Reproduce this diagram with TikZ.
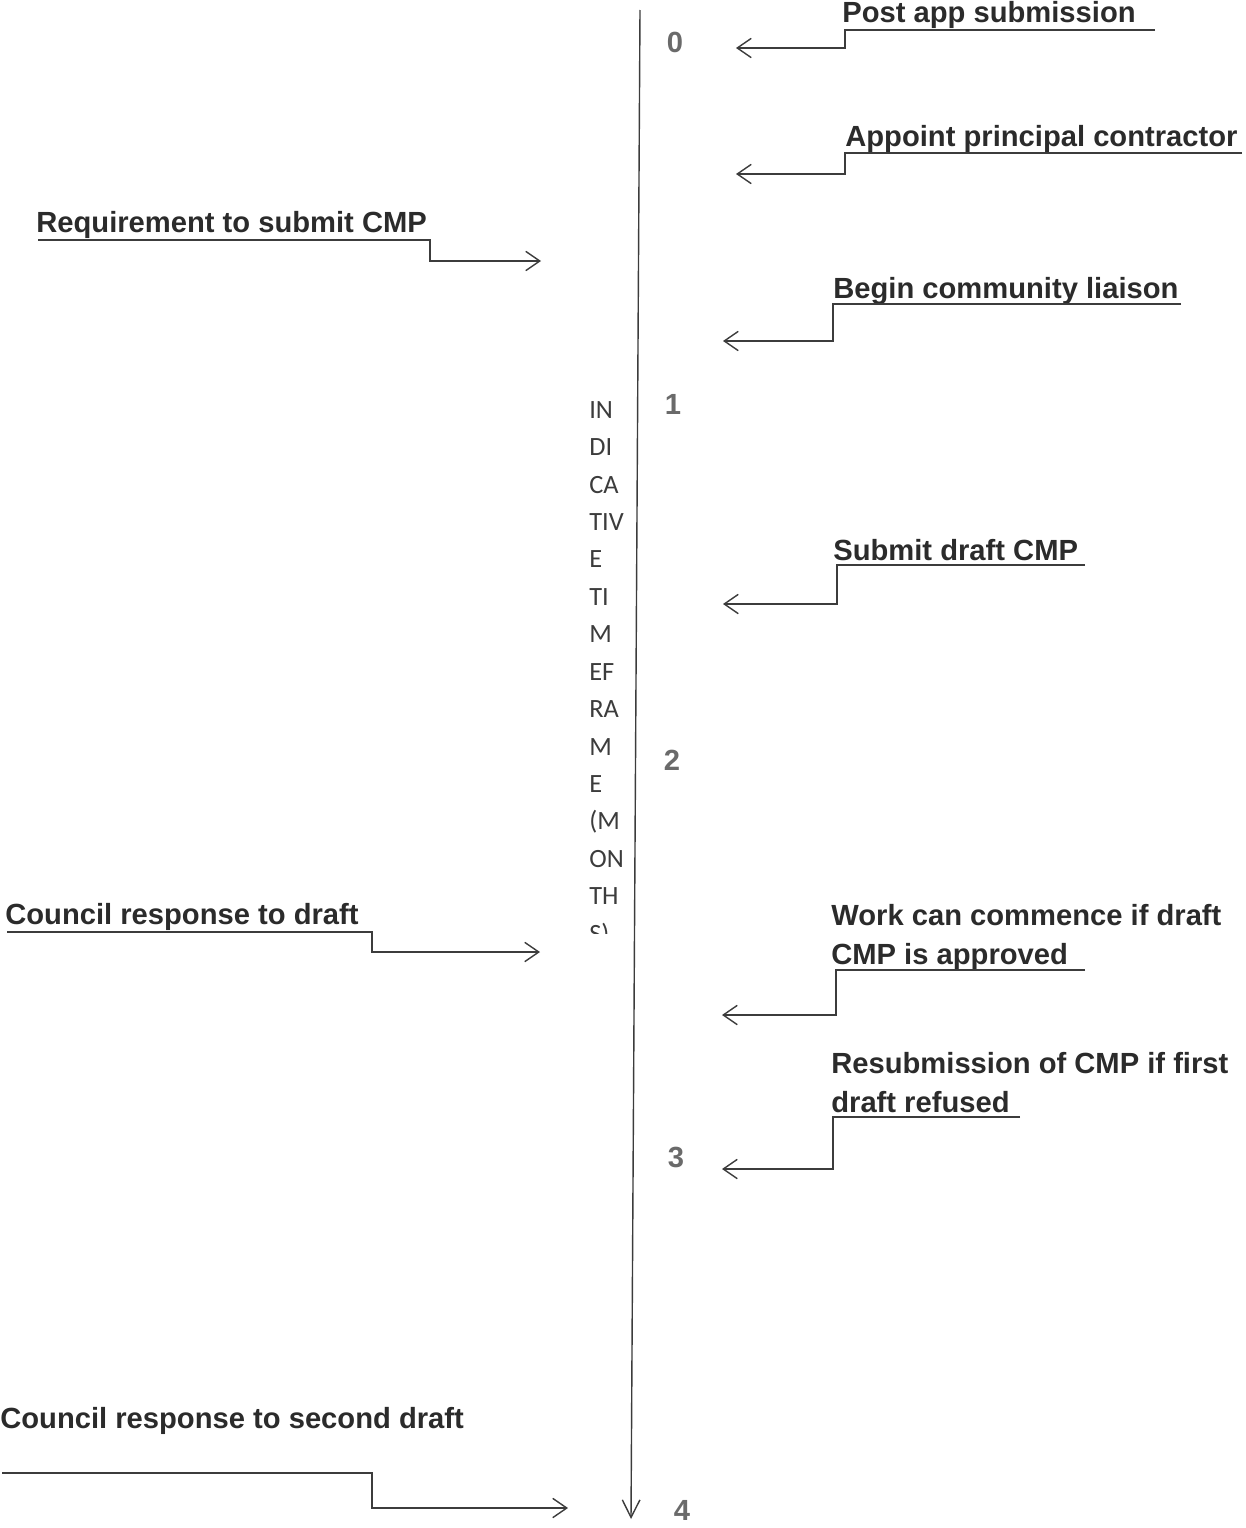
\documentclass[tikz,border=0pt]{standalone}
\usepackage{fontspec}
\setmainfont{Liberation Sans}
\newfontfamily\calib{Carlito}
\usetikzlibrary{arrows.meta}
\definecolor{ink}{HTML}{2B2B2B}
\definecolor{numgray}{HTML}{6A6A6A}
\definecolor{linegray}{HTML}{3C3C3C}
\definecolor{coltext}{HTML}{3C3C3C}
\begin{document}
\begin{tikzpicture}[x=0.02cm,y=-0.02cm,
    lbl/.style={inner sep=0pt,text=ink,font=\fontsize{16.6}{22.2}\selectfont\bfseries},
    num/.style={inner sep=0pt,text=numgray,font=\fontsize{16.6}{20}\selectfont\bfseries},
    conn/.style={draw=linegray,line width=0.8pt,-{Straight Barb[length=8pt,width=11pt]}},
    uline/.style={draw=linegray,line width=0.8pt}]
    \useasboundingbox (0,0) rectangle (1245,1528);
    % time line
    \coordinate (top) at (640,10);
    \coordinate (bottom) at (631,1519);
    \draw[draw=linegray,line width=0.8pt,-{Straight Barb[length=10pt,width=10pt]}] (top) -- (bottom);
    \node[num] (m0) at (675,42) {0};
    \node[num] (m1) at (673,404) {1};
    \node[num] (m2) at (672,760) {2};
    \node[num] (m3) at (676,1157) {3};
    \node[num] (m4) at (682,1510) {4};
    \begin{scope}
        \clip (560,380) rectangle (630,933);
        \node[inner sep=0pt,anchor=north west,align=left,text=coltext,font=\calib\fontsize{15}{21.3}\selectfont] (frame) at (589,401)
            {IN\\DI\\CA\\TIV\\E\\TI\\M\\EF\\RA\\M\\E\\(M\\ON\\TH\\S)};
    \end{scope}
    % right hand labels
    \node[lbl,anchor=base west] (post) at (842,22) {Post app submission};
    \coordinate (post-e) at (1155,30);
    \coordinate (post-c) at (845,30);
    \coordinate (post-t) at (736,48);
    \draw[conn] (post-e) -- (post-c) |- (post-t);
    \node[lbl,anchor=base west] (appoint) at (845,146) {Appoint principal contractor};
    \coordinate (appoint-e) at (1242,153);
    \coordinate (appoint-c) at (845,153);
    \coordinate (appoint-t) at (736,174);
    \draw[conn] (appoint-e) -- (appoint-c) |- (appoint-t);
    \node[lbl,anchor=base west] (liaison) at (833,298) {Begin community liaison};
    \coordinate (liaison-e) at (1181,304);
    \coordinate (liaison-c) at (833,304);
    \coordinate (liaison-t) at (723,341);
    \draw[conn] (liaison-e) -- (liaison-c) |- (liaison-t);
    \node[lbl,anchor=base west] (draft) at (833,560) {Submit draft CMP};
    \coordinate (draft-e) at (1085,565);
    \coordinate (draft-c) at (837,565);
    \coordinate (draft-t) at (723,604);
    \draw[conn] (draft-e) -- (draft-c) |- (draft-t);
    \node[lbl,anchor=north west,align=left] (commence) at (831,904) {Work can commence if draft\\CMP is approved};
    \coordinate (commence-e) at (1085,970);
    \coordinate (commence-c) at (836,970);
    \coordinate (commence-t) at (722,1015);
    \draw[conn] (commence-e) -- (commence-c) |- (commence-t);
    \node[lbl,anchor=north west,align=left] (resub) at (831,1052) {Resubmission of CMP if first\\draft refused};
    \coordinate (resub-e) at (1020,1117);
    \coordinate (resub-c) at (833,1117);
    \coordinate (resub-t) at (722,1169);
    \draw[conn] (resub-e) -- (resub-c) |- (resub-t);
    % left hand labels
    \node[lbl,anchor=base west] (req) at (36,232) {Requirement to submit CMP};
    \coordinate (req-s) at (38,240);
    \coordinate (req-c) at (430,240);
    \coordinate (req-t) at (541,261);
    \draw[conn] (req-s) -- (req-c) |- (req-t);
    \node[lbl,anchor=base west] (resp) at (5,924) {Council response to draft};
    \coordinate (resp-s) at (7,932);
    \coordinate (resp-c) at (372,932);
    \coordinate (resp-t) at (540,952);
    \draw[conn] (resp-s) -- (resp-c) |- (resp-t);
    \node[lbl,anchor=base west] (resp2) at (0,1428) {Council response to second draft};
    \coordinate (resp2-s) at (2,1473);
    \coordinate (resp2-c) at (372,1473);
    \coordinate (resp2-t) at (568,1508);
    \draw[conn] (resp2-s) -- (resp2-c) |- (resp2-t);
\end{tikzpicture}
\end{document}
